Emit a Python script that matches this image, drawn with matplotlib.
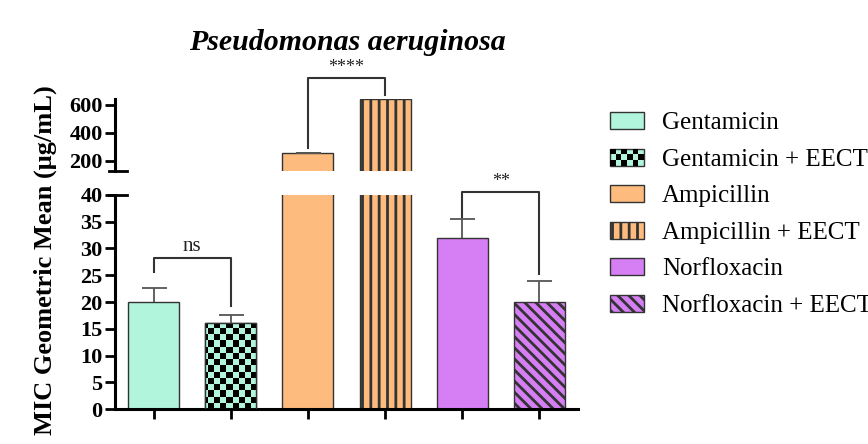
import numpy as np
import matplotlib
matplotlib.use('Agg')
import matplotlib.pyplot as plt
from matplotlib.patches import Rectangle, Patch
from matplotlib.colors import ListedColormap
from matplotlib.legend_handler import HandlerBase

plt.rcParams['font.family'] = ['Liberation Serif', 'DejaVu Serif']
plt.rcParams['hatch.linewidth'] = 2.0

# ---------------- data ----------------
labels = ['Gentamicin', 'Gentamicin + EECT', 'Ampicillin', 'Ampicillin + EECT',
          'Norfloxacin', 'Norfloxacin + EECT']
means = [20, 16, 256, 640, 32, 20]
err_up = [2.7, 1.6, 0, None, 3.5, 4.0]
colors = ['#b0f5dc', '#b0f5dc', '#fdbb7e', '#fdbb7e', '#d67ef3', '#d67ef3']
hatches = [None, 'checker', None, '||', None, '\\\\\\']
# significance brackets: (left bar, right bar, left leg end, right leg end, bar height, label, axis)
brackets = [(0, 1, 25.6, 19.3, 28.3, 'ns', 'low'),
            (4, 5, 35.9, 25.2, 40.6, '**', 'low'),
            (2, 3, 293, 671, 793, '****', 'high')]

W, H = 868, 444
fig = plt.figure(figsize=(W / 100, H / 100), dpi=100)

left, right = 115 / W, 578 / W
ax_lo = fig.add_axes([left, (H - 409) / H, right - left, (409 - 195) / H])
ax_hi = fig.add_axes([left, (H - 171) / H, right - left, (171 - 98.6) / H])
ax_lo.set_ylim(0, 40)
ax_hi.set_ylim(128, 645)

x = np.arange(len(means))
edge = '#333333'
for ax in (ax_lo, ax_hi):
    bars = ax.bar(x, means, width=0.66, color=colors, edgecolor=edge, linewidth=1.0, zorder=2)
    for b, h in zip(bars, hatches):
        if h and h != 'checker':
            b.set_hatch(h)
    for xi, m, e in zip(x, means, err_up):
        if e is not None:
            _, caps, _ = ax.errorbar(xi, m, yerr=[[0], [e]], fmt='none', ecolor='#555555',
                                     elinewidth=1.3, capsize=9, capthick=1.3, zorder=3)
            if e > 0 and len(caps) > 1:
                caps[0].set_visible(False)
    ax.set_xlim(-0.5, 5.5)
    for s in ('top', 'right'):
        ax.spines[s].set_visible(False)
    ax.spines['left'].set_linewidth(2.2)
    ax.spines['bottom'].set_linewidth(2.2)
    ax.tick_params(axis='y', width=2, length=7, labelsize=16, pad=2)
    if ax is ax_lo:
        # checkerboard fill clipped to bar
        ci = hatches.index('checker')
        b = bars[ci]
        fig.canvas.draw()
        bb = ax.get_window_extent()
        sq = 6.2
        nx = int(np.ceil(bb.width / sq))
        ny = int(np.ceil(bb.height / sq))
        checker = (np.add.outer(np.arange(ny), np.arange(nx)) % 2)
        xl = ax.get_xlim()
        yl = ax.get_ylim()
        im = ax.imshow(checker, extent=(xl[0], xl[0] + nx * sq / bb.width * (xl[1] - xl[0]),
                                        yl[0], yl[0] + ny * sq / bb.height * (yl[1] - yl[0])),
                       origin='lower', cmap=ListedColormap([colors[ci], 'black']),
                       aspect='auto', interpolation='nearest', zorder=2.5)
        im.set_clip_path(b)
        ax.set_xlim(xl)
        ax.set_ylim(yl)
        # redraw bar outline above checker
        ax.bar(x[ci], means[ci], width=0.66, color='none', edgecolor=edge, linewidth=1.0, zorder=2.6)

ax_lo.set_ylim(0, 40)
ax_lo.set_yticks(np.arange(0, 41, 5))
ax_lo.set_xticks(x)
ax_lo.set_xticklabels([])
ax_lo.tick_params(axis='x', width=2, length=7)

ax_hi.set_ylim(128, 645)
ax_hi.set_yticks([200, 400, 600])
ax_hi.spines['bottom'].set_visible(False)
ax_hi.set_xticks([])
for ax in (ax_lo, ax_hi):
    for t in ax.get_yticklabels():
        t.set_fontweight('bold')

# break marks
ax_hi.plot([-0.012, 0.025], [0, 0], transform=ax_hi.transAxes, color='black', lw=2, clip_on=False)
ax_lo.plot([-0.012, 0.025], [1, 1], transform=ax_lo.transAxes, color='black', lw=2, clip_on=False)

# significance brackets
for l, r, yl_, yr_, yb, txt, which in brackets:
    ax = ax_lo if which == 'low' else ax_hi
    ax.plot([l, l, r, r], [yl_, yb, yb, yr_], color='#333333', lw=1.5, clip_on=False, zorder=4)
    ax.annotate(txt, xy=((l + r) / 2, yb), xytext=(0, 1), textcoords='offset points',
                ha='center', va='bottom', fontsize=15 if txt == 'ns' else 13,
                color='#222222', annotation_clip=False)

# title
fig.text(347 / W, 1 - 43 / H, 'Pseudomonas aeruginosa', ha='center', va='center',
         fontsize=21.5, fontweight='bold', fontstyle='italic')

# y label
fig.text(45 / W, 1 - 260 / H, 'MIC Geometric Mean (μg/mL)', rotation=90, ha='center',
         va='center', fontsize=19, fontweight='bold')


# legend
class CheckerHandler(HandlerBase):
    def create_artists(self, legend, orig_handle, xdescent, ydescent, width, height,
                       fontsize, trans):
        arts = [Rectangle((-xdescent, -ydescent), width, height, facecolor=orig_handle.get_facecolor(),
                          edgecolor=edge, lw=1.0, transform=trans)]
        nc, nr = 6, 3
        cw, rh = width / nc, height / nr
        for i in range(nr):
            for j in range(nc):
                if (i + j) % 2 == 0:
                    arts.append(Rectangle((-xdescent + j * cw, -ydescent + i * rh), cw, rh,
                                          facecolor='black', edgecolor='none', transform=trans))
        return arts


handles = []
for lab, c, h in zip(labels, colors, hatches):
    handles.append(Patch(facecolor=c, edgecolor=edge, lw=1.0,
                         hatch=(h if h and h != 'checker' else None), label=lab))
hmap = {handles[hatches.index('checker')]: CheckerHandler()}
fig.legend(handles=handles, labels=labels, handler_map=hmap, loc='upper left',
           bbox_to_anchor=(610 / W, 1 - 112 / H), frameon=False, fontsize=18,
           handlelength=1.35, handleheight=0.67, handletextpad=0.72, labelspacing=0.57,
           borderaxespad=0, borderpad=0)

fig.savefig('out.png', dpi=100)
